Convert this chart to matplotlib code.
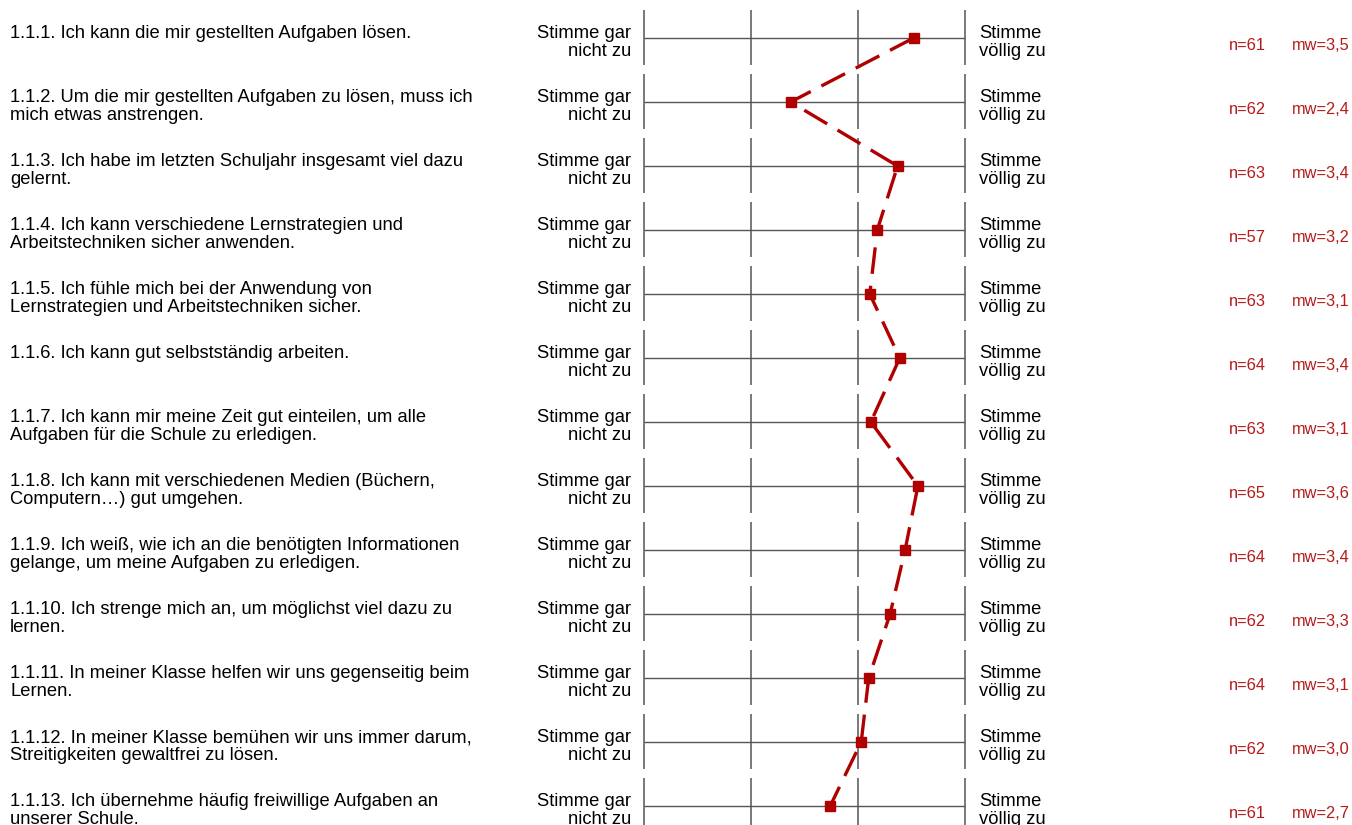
import matplotlib
matplotlib.use("Agg")
import matplotlib.pyplot as plt
from matplotlib import transforms

questions = [
    "1.1.1. Ich kann die mir gestellten Aufgaben lösen.",
    "1.1.2. Um die mir gestellten Aufgaben zu lösen, muss ich\nmich etwas anstrengen.",
    "1.1.3. Ich habe im letzten Schuljahr insgesamt viel dazu\ngelernt.",
    "1.1.4. Ich kann verschiedene Lernstrategien und\nArbeitstechniken sicher anwenden.",
    "1.1.5. Ich fühle mich bei der Anwendung von\nLernstrategien und Arbeitstechniken sicher.",
    "1.1.6. Ich kann gut selbstständig arbeiten.",
    "1.1.7. Ich kann mir meine Zeit gut einteilen, um alle\nAufgaben für die Schule zu erledigen.",
    "1.1.8. Ich kann mit verschiedenen Medien (Büchern,\nComputern…) gut umgehen.",
    "1.1.9. Ich weiß, wie ich an die benötigten Informationen\ngelange, um meine Aufgaben zu erledigen.",
    "1.1.10. Ich strenge mich an, um möglichst viel dazu zu\nlernen.",
    "1.1.11. In meiner Klasse helfen wir uns gegenseitig beim\nLernen.",
    "1.1.12. In meiner Klasse bemühen wir uns immer darum,\nStreitigkeiten gewaltfrei zu lösen.",
    "1.1.13. Ich übernehme häufig freiwillige Aufgaben an\nunserer Schule.",
]
means = [3.52, 2.37, 3.37, 3.18, 3.11, 3.39, 3.12, 3.56, 3.44, 3.30, 3.10, 3.03, 2.74]
n_values = [61, 62, 63, 57, 63, 64, 63, 65, 64, 62, 64, 62, 61]
mw_labels = ["3,5", "2,4", "3,4", "3,2", "3,1", "3,4", "3,1", "3,6", "3,4", "3,3", "3,1", "3,0", "2,7"]
left_anchor = "Stimme gar\nnicht zu"
right_anchor = "Stimme\nvöllig zu"
scale_ticks = [1, 2, 3, 4]

W, H = 1352, 825
fig = plt.figure(figsize=(W / 100, H / 100), dpi=100)
ax = fig.add_axes([0, 0, 1, 1])
ax.axis("off")

# x: value 1 -> px 644, value 4 -> px 965
ppu = (965 - 644) / 3.0
ax.set_xlim(1 - 644 / ppu, 1 + (W - 644) / ppu)
# y: row i at px 38 + 64 i
rp = 64.0
ax.set_ylim((H - 38) / rp, -38 / rp)

plt.rcParams["font.family"] = ["Liberation Sans", "DejaVu Sans"]
fs = 13.2
fs_small = 11.8
grey = "#555555"
red = "#b00000"
txtred = "#b51a1a"

rows = list(range(len(questions)))
bt = transforms.blended_transform_factory(fig.transFigure, ax.transData)

for i in rows:
    ax.vlines(scale_ticks, i - 28 / rp, i + 27 / rp, color=grey, lw=1.1, zorder=1)
    ax.hlines(i, scale_ticks[0], scale_ticks[-1], color=grey, lw=1.0, zorder=1)
    for k, line in enumerate(questions[i].split("\n")):
        ax.text(10 / W, i + (-4 + 18 * k) / rp, line, transform=bt, fontsize=fs,
                ha="left", va="center", color="black")
    for k, line in enumerate(left_anchor.split("\n")):
        ax.text(631 / W, i + (-4 + 18 * k) / rp, line, transform=bt, fontsize=fs,
                ha="right", va="center", color="black")
    for k, line in enumerate(right_anchor.split("\n")):
        ax.text(979 / W, i + (-4 + 18 * k) / rp, line, transform=bt, fontsize=fs,
                ha="left", va="center", color="black")
    ax.text(1229 / W, i + 8 / rp, f"n={n_values[i]}", transform=bt, fontsize=fs_small,
            ha="left", va="center", color=txtred)
    ax.text(1350 / W, i + 8 / rp, f"mw={mw_labels[i]}", transform=bt, fontsize=fs_small,
            ha="right", va="center", color=txtred)

ax.plot(means, rows, color=red, lw=2.4, dashes=(8, 3.6), marker="s", ms=7,
        markerfacecolor=red, markeredgecolor=red, zorder=3)

fig.savefig("out.png", dpi=100)
